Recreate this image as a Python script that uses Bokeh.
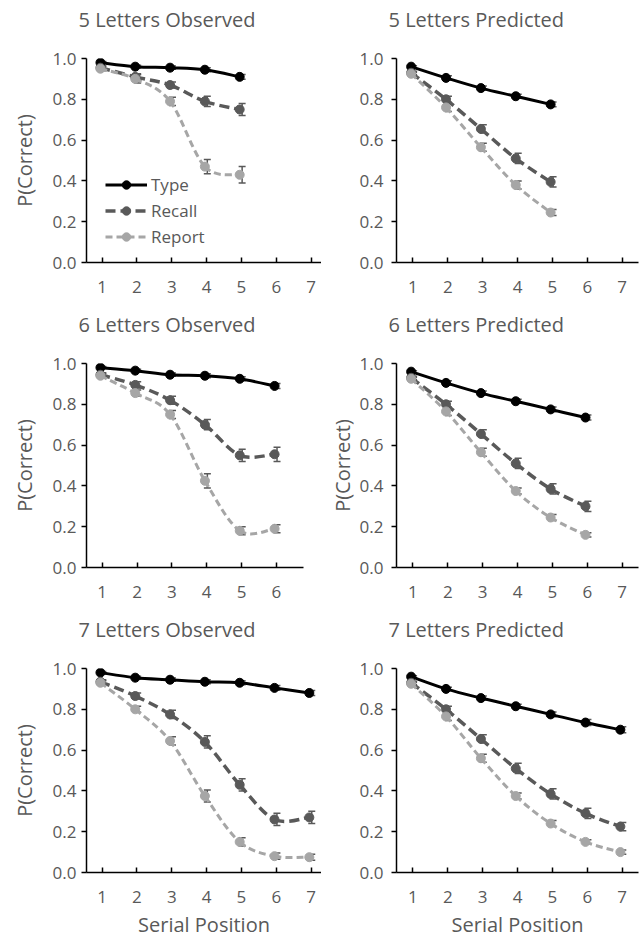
from bokeh.plotting import figure
from bokeh.layouts import column, row
from bokeh.models import (FixedTicker, ColumnDataSource, Whisker, TeeHead, Legend,
                          LegendItem, NumeralTickFormatter, Title)
from bokeh.embed import file_html
from bokeh.resources import INLINE

# ---------------- data ----------------
series_names = ["Type", "Recall", "Report"]

obs5_type = [0.98, 0.96, 0.955, 0.945, 0.91]
obs5_type_err = [0.005, 0.007, 0.008, 0.010, 0.012]
obs5_recall = [0.955, 0.91, 0.87, 0.79, 0.75]
obs5_recall_err = [0.010, 0.015, 0.015, 0.025, 0.030]
obs5_report = [0.95, 0.90, 0.79, 0.47, 0.43]
obs5_report_err = [0.010, 0.020, 0.020, 0.035, 0.040]

pred5_type = [0.96, 0.905, 0.855, 0.815, 0.775]
pred5_type_err = [0.005, 0.010, 0.010, 0.010, 0.012]
pred5_recall = [0.93, 0.80, 0.655, 0.51, 0.395]
pred5_recall_err = [0.008, 0.015, 0.020, 0.025, 0.025]
pred5_report = [0.925, 0.76, 0.565, 0.38, 0.245]
pred5_report_err = [0.008, 0.020, 0.020, 0.020, 0.015]

obs6_type = [0.98, 0.965, 0.945, 0.94, 0.925, 0.89]
obs6_type_err = [0.005, 0.007, 0.008, 0.010, 0.010, 0.012]
obs6_recall = [0.945, 0.895, 0.82, 0.70, 0.55, 0.555]
obs6_recall_err = [0.010, 0.015, 0.020, 0.025, 0.030, 0.035]
obs6_report = [0.94, 0.855, 0.75, 0.425, 0.18, 0.19]
obs6_report_err = [0.010, 0.015, 0.020, 0.035, 0.020, 0.020]

pred6_type = [0.96, 0.905, 0.855, 0.815, 0.775, 0.735]
pred6_type_err = [0.005, 0.010, 0.010, 0.010, 0.012, 0.012]
pred6_recall = [0.93, 0.80, 0.655, 0.51, 0.385, 0.30]
pred6_recall_err = [0.008, 0.015, 0.020, 0.025, 0.025, 0.025]
pred6_report = [0.925, 0.765, 0.565, 0.375, 0.245, 0.16]
pred6_report_err = [0.008, 0.020, 0.020, 0.015, 0.015, 0.010]

obs7_type = [0.98, 0.955, 0.945, 0.935, 0.93, 0.905, 0.88]
obs7_type_err = [0.005, 0.007, 0.008, 0.010, 0.010, 0.012, 0.012]
obs7_recall = [0.935, 0.865, 0.775, 0.64, 0.43, 0.26, 0.27]
obs7_recall_err = [0.010, 0.015, 0.020, 0.030, 0.030, 0.030, 0.030]
obs7_report = [0.93, 0.80, 0.645, 0.375, 0.15, 0.08, 0.075]
obs7_report_err = [0.010, 0.015, 0.020, 0.030, 0.020, 0.015, 0.015]

pred7_type = [0.96, 0.90, 0.855, 0.815, 0.775, 0.735, 0.70]
pred7_type_err = [0.005, 0.008, 0.010, 0.010, 0.012, 0.015, 0.015]
pred7_recall = [0.93, 0.80, 0.655, 0.51, 0.385, 0.29, 0.225]
pred7_recall_err = [0.008, 0.015, 0.020, 0.025, 0.025, 0.025, 0.020]
pred7_report = [0.925, 0.765, 0.56, 0.375, 0.24, 0.15, 0.10]
pred7_report_err = [0.008, 0.020, 0.020, 0.015, 0.015, 0.010, 0.010]

y_ticks = [0.0, 0.2, 0.4, 0.6, 0.8, 1.0]

FONT = "Open Sans"
TXT = "#595959"
COLORS = ["#000000", "#595959", "#a6a6a6"]
DASHES = ["solid", "10 5", "7 4"]
WIDTHS = [3, 3.5, 3]


def smooth_segments(xs, ys):
    """Bezier control points (Catmull-Rom style) for a smoothed line."""
    n = len(xs)
    x0, y0, x1, y1, cx0, cy0, cx1, cy1 = [], [], [], [], [], [], [], []
    for i in range(n - 1):
        xm, ym = (xs[i - 1], ys[i - 1]) if i > 0 else (xs[i], ys[i])
        xp, yp = (xs[i + 2], ys[i + 2]) if i + 2 < n else (xs[i + 1], ys[i + 1])
        x0.append(xs[i]); y0.append(ys[i])
        x1.append(xs[i + 1]); y1.append(ys[i + 1])
        cx0.append(xs[i] + (xs[i + 1] - xm) / 6.0)
        cy0.append(ys[i] + (ys[i + 1] - ym) / 6.0)
        cx1.append(xs[i + 1] - (xp - xs[i]) / 6.0)
        cy1.append(ys[i + 1] - (yp - ys[i]) / 6.0)
    return dict(x0=x0, y0=y0, x1=x1, y1=y1, cx0=cx0, cy0=cy0, cx1=cx1, cy1=cy1)


def panel(title, series, errs, n_ticks, x_start, x_end, frame_w, left, right,
          bottom, ylabel=True, xlabel=False, legend=False, ylab_standoff=12,
          tick_standoff=5):
    p = figure(frame_width=frame_w, frame_height=204, x_range=(x_start, x_end),
               y_range=(0, 1), output_backend="svg", toolbar_location=None,
               min_border_left=left, min_border_right=right, min_border_top=58,
               min_border_bottom=bottom,
               title=Title(text=title, text_font=FONT, text_font_size="20px",
                           text_font_style="normal", text_color=TXT,
                           align="left", offset=-8, standoff=0))
    # spacer between the title and the plot frame
    p.add_layout(Title(text=" ", text_font_size="1px", standoff=23), "above")
    p.outline_line_color = None
    p.xgrid.grid_line_color = None
    p.ygrid.grid_line_color = None
    p.background_fill_color = None
    p.border_fill_color = None

    xa = p.xaxis[0]
    xa.ticker = FixedTicker(ticks=list(range(1, n_ticks + 1)))
    xa.axis_line_color = "black"
    xa.axis_line_width = 1.5
    xa.major_tick_line_color = "black"
    xa.major_tick_line_width = 1.5
    xa.major_tick_in = 5
    xa.major_tick_out = 0
    xa.minor_tick_line_color = None
    xa.major_label_text_font = FONT
    xa.major_label_text_font_size = "17px"
    xa.major_label_text_color = TXT
    xa.major_label_standoff = 18
    if xlabel:
        xa.axis_label = "Serial Position"
        xa.axis_label_text_font = FONT
        xa.axis_label_text_font_size = "20px"
        xa.axis_label_text_font_style = "normal"
        xa.axis_label_text_color = TXT
        xa.axis_label_standoff = 5

    ya = p.yaxis[0]
    ya.ticker = FixedTicker(ticks=y_ticks)
    ya.formatter = NumeralTickFormatter(format="0.0")
    ya.axis_line_color = "black"
    ya.axis_line_width = 1.5
    ya.major_tick_line_color = "black"
    ya.major_tick_line_width = 1.5
    ya.major_tick_in = 0
    ya.major_tick_out = 5
    ya.minor_tick_line_color = None
    ya.major_label_text_font = FONT
    ya.major_label_text_font_size = "17px"
    ya.major_label_text_color = TXT
    ya.major_label_standoff = tick_standoff
    if ylabel:
        ya.axis_label = "P(Correct)"
        ya.axis_label_text_font = FONT
        ya.axis_label_text_font_size = "20px"
        ya.axis_label_text_font_style = "normal"
        ya.axis_label_text_color = TXT
        ya.axis_label_standoff = ylab_standoff

    items = []
    for k, (vals, err) in enumerate(zip(series, errs)):
        xs = list(range(1, len(vals) + 1))
        xm = [x - 0.05 for x in xs]
        seg = ColumnDataSource(smooth_segments(xm, vals))
        br = p.bezier(x0="x0", y0="y0", x1="x1", y1="y1", cx0="cx0", cy0="cy0",
                      cx1="cx1", cy1="cy1", source=seg, line_color=COLORS[k],
                      line_width=WIDTHS[k], line_dash=DASHES[k])
        esrc = ColumnDataSource(dict(x=[x + 0.02 for x in xs],
                                     lo=[v - e for v, e in zip(vals, err)],
                                     hi=[v + e for v, e in zip(vals, err)]))
        w = Whisker(base="x", lower="lo", upper="hi", source=esrc,
                    line_color="#595959", line_width=1.5,
                    upper_head=TeeHead(size=7, line_color="#595959", line_width=1.5),
                    lower_head=TeeHead(size=7, line_color="#595959", line_width=1.5))
        p.add_layout(w)
        sr = p.scatter(xm, vals, size=9, fill_color=COLORS[k], line_color=COLORS[k])
        items.append(LegendItem(label=series_names[k], renderers=[br, sr]))

    if legend:
        lg = Legend(items=items, location=(19, 14), orientation="vertical",
                    glyph_width=42, glyph_height=21, label_height=21,
                    spacing=3, padding=0, margin=0, label_standoff=4,
                    label_text_font=FONT, label_text_font_size="17px",
                    label_text_color=TXT, border_line_color=None,
                    background_fill_alpha=0)
        p.add_layout(lg, "center")
    return p


p1 = panel("5 Letters Observed", [obs5_type, obs5_recall, obs5_report],
           [obs5_type_err, obs5_recall_err, obs5_report_err], 7, 0.55, 7.3,
           235, 86, 0, 43, legend=True)
p2 = panel("5 Letters Predicted", [pred5_type, pred5_recall, pred5_report],
           [pred5_type_err, pred5_recall_err, pred5_report_err], 7, 0.53, 7.47,
           242, 75, 5, 43, ylabel=False, tick_standoff=8)
p3 = panel("6 Letters Observed", [obs6_type, obs6_recall, obs6_report],
           [obs6_type_err, obs6_recall_err, obs6_report_err], 6, 0.55, 6.78,
           217, 86, 18, 43)
p4 = panel("6 Letters Predicted", [pred6_type, pred6_recall, pred6_report],
           [pred6_type_err, pred6_recall_err, pred6_report_err], 7, 0.53, 7.47,
           242, 75, 5, 43, ylab_standoff=1, tick_standoff=8)
p5 = panel("7 Letters Observed", [obs7_type, obs7_recall, obs7_report],
           [obs7_type_err, obs7_recall_err, obs7_report_err], 7, 0.55, 7.3,
           235, 86, 0, 68, xlabel=True)
p6 = panel("7 Letters Predicted", [pred7_type, pred7_recall, pred7_report],
           [pred7_type_err, pred7_recall_err, pred7_report_err], 7, 0.53, 7.47,
           242, 75, 5, 68, ylabel=False, xlabel=True, tick_standoff=8)

layout = column(row(p1, p2), row(p3, p4), row(p5, p6))

with open("out.html", "w") as f:
    f.write(file_html(layout, INLINE))
